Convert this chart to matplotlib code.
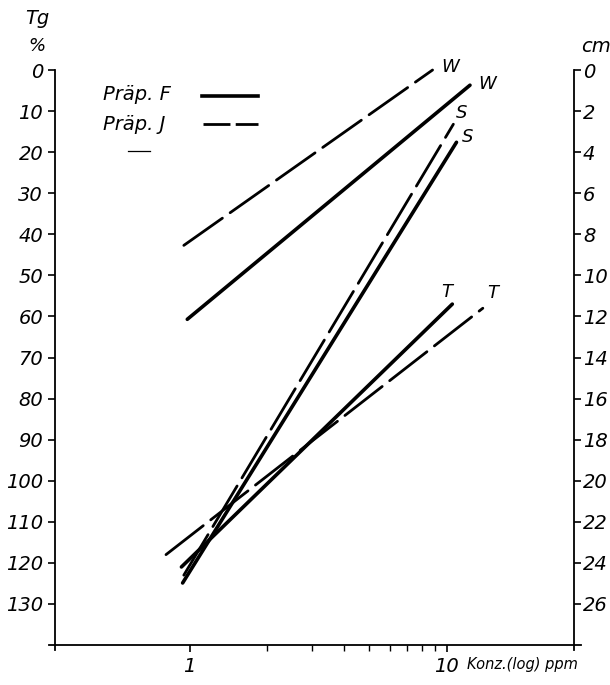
import numpy as np
import matplotlib
matplotlib.use("Agg")
import matplotlib.pyplot as plt
from matplotlib.lines import Line2D

plt.rcParams['font.family'] = ['DejaVu Sans']
plt.rcParams['font.style'] = 'italic'

# Concentration (ppm, log scale) vs. Tg (%) for two preparations
conc_F_W = [0.98, 12.3]
tg_F_W = [60.7, 3.7]
conc_J_W = [0.95, 8.8]
tg_J_W = [42.7, 0.0]

conc_F_S = [0.94, 10.9]
tg_F_S = [124.9, 17.6]
conc_J_S = [0.95, 10.6]
tg_J_S = [123.0, 13.2]

conc_F_T = [0.93, 10.5]
tg_F_T = [121.0, 57.0]
conc_J_T = [0.81, 13.8]
tg_J_T = [118.0, 58.0]

left_ticks = list(range(0, 140, 10))
right_ticks = list(range(0, 28, 2))
x_major = [1, 10]
x_minor = [2, 3, 4, 5, 6, 7, 8, 9]

W, H = 610, 685
fig = plt.figure(figsize=(W / 100, H / 100), dpi=100)
ax = fig.add_axes([55 / W, (H - 645) / H, (574 - 55) / W, (645 - 70) / H])

ax.set_xscale('log')
ax.set_xlim(0.3, 31.2)
ax.set_ylim(140, 0)

solid = dict(color='black', lw=2.6, solid_capstyle='round', clip_on=False)
dashed = dict(color='black', lw=2.0, dashes=(17, 3.4), dash_capstyle='round', clip_on=False)

ax.plot(conc_F_W, tg_F_W, **solid)
ax.plot(conc_J_W, tg_J_W, **dashed)
ax.plot(conc_F_S, tg_F_S, **solid)
ax.plot(conc_J_S, tg_J_S, **dashed)
ax.plot(conc_F_T, tg_F_T, **solid)
ax.plot(conc_J_T, tg_J_T, **dashed)

# curve letters next to line ends (offsets in points)
lab = dict(fontsize=13, ha='center', va='center', textcoords='offset points')
ax.annotate('W', (conc_J_W[1], tg_J_W[1]), xytext=(13, 2), **lab)
ax.annotate('W', (conc_F_W[1], tg_F_W[1]), xytext=(12, 1), **lab)
ax.annotate('S', (conc_J_S[1], tg_J_S[1]), xytext=(6, 8), **lab)
ax.annotate('S', (conc_F_S[1], tg_F_S[1]), xytext=(8, 4), **lab)
ax.annotate('T', (conc_F_T[1], tg_F_T[1]), xytext=(-4, 9), **lab)
ax.annotate('T', (conc_J_T[1], tg_J_T[1]), xytext=(7, 11), **lab)

# axes styling
ax.spines['top'].set_visible(False)
ax.spines['right'].set_visible(False)
for s in ['left', 'bottom']:
    ax.spines[s].set_linewidth(1.3)

ax.set_yticks(left_ticks)
ax.set_yticklabels([str(t) for t in left_ticks])
ax.set_xticks(x_major)
ax.set_xticklabels(['1', '10'])
ax.set_xticks(x_minor, minor=True)
ax.xaxis.set_minor_formatter(matplotlib.ticker.NullFormatter())
ax.tick_params(axis='y', direction='out', length=5, width=1.2, labelsize=14, pad=3.5)
ax.tick_params(axis='x', which='major', direction='out', length=5, width=1.2, labelsize=14, pad=4)
ax.tick_params(axis='x', which='minor', direction='out', length=4, width=1.0)

ax2 = ax.twinx()
ax2.set_ylim(28, 0)
for s in ['top', 'left', 'bottom']:
    ax2.spines[s].set_visible(False)
ax2.spines['right'].set_linewidth(1.3)
ax2.set_yticks(right_ticks)
ax2.set_yticklabels([str(t) for t in right_ticks])
ax2.tick_params(axis='y', direction='out', length=5, width=1.2, labelsize=14, pad=1.5)

# small overshoot of the axis lines at the corners
corner = dict(color='black', lw=1.3, transform=fig.transFigure)
fig.add_artist(Line2D([49 / W, 55 / W], [1 - 645 / H, 1 - 645 / H], **corner))
fig.add_artist(Line2D([55 / W, 55 / W], [1 - 645 / H, 1 - 650 / H], **corner))
fig.add_artist(Line2D([574 / W, 581 / W], [1 - 645 / H, 1 - 645 / H], **corner))
fig.add_artist(Line2D([574 / W, 574 / W], [1 - 645 / H, 1 - 650 / H], **corner))

# axis titles
fig.text(37 / W, 1 - 18 / H, 'Tg', fontsize=14, ha='center', va='center')
fig.text(37 / W, 1 - 46 / H, '%', fontsize=13, ha='center', va='center')
fig.text(596 / W, 1 - 46 / H, 'cm', fontsize=14, ha='center', va='center')
fig.text(467 / W, 1 - 664 / H, 'Konz.(log) ppm', fontsize=10.5, ha='left', va='center')

# legend
fig.text(103 / W, 1 - 95 / H, 'Präp. F', fontsize=14, ha='left', va='center')
fig.text(103 / W, 1 - 124 / H, 'Präp. J', fontsize=14, ha='left', va='center')
fig.add_artist(Line2D([202 / W, 258 / W], [1 - 96 / H, 1 - 96 / H], color='black', lw=2.6,
                      transform=fig.transFigure))
fig.add_artist(Line2D([203 / W, 258 / W], [1 - 124 / H, 1 - 124 / H], color='black', lw=2.0,
                      dashes=(9.7, 1.9), transform=fig.transFigure))
fig.add_artist(Line2D([128 / W, 150 / W], [1 - 151 / H, 1 - 151 / H], color='black', lw=0.9,
                      transform=fig.transFigure))

fig.savefig('out.png', dpi=100)
